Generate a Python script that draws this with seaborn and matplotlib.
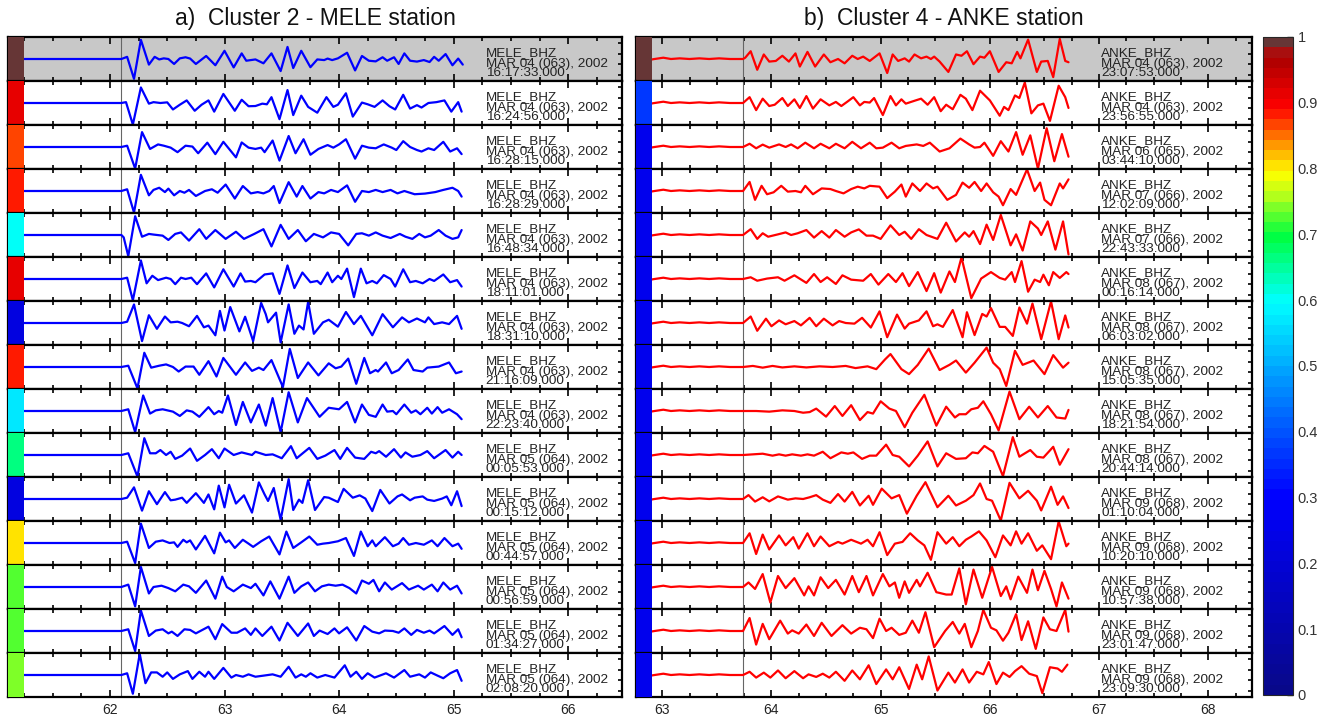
import numpy as np
import matplotlib
matplotlib.use("Agg")
import matplotlib.pyplot as plt
import seaborn as sns
from matplotlib.colors import LinearSegmentedColormap, ListedColormap, Normalize
from matplotlib.patches import Rectangle
from matplotlib.ticker import MultipleLocator
from matplotlib.cm import ScalarMappable

# ---- data ----
# trace times are in 1/100 s after the onset, amplitudes in % of the row half-height
mele_title = "a)  Cluster 2 - MELE station"
anke_title = "b)  Cluster 4 - ANKE station"

mele_onset = 62.1
anke_onset = 63.74

mele_corr = [1.0, 0.91, 0.86, 0.88, 0.60, 0.92, 0.22, 0.88, 0.57, 0.66, 0.22, 0.80, 0.72, 0.73, 0.74]
anke_corr = [1.0, 0.37, 0.26, 0.26, 0.26, 0.26, 0.26, 0.26, 0.26, 0.26, 0.26, 0.26, 0.26, 0.26, 0.26]

mele_dates = [
    ("MAR 04 (063), 2002", "16:17:33.000"), ("MAR 04 (063), 2002", "16:24:56.000"),
    ("MAR 04 (063), 2002", "16:28:15.000"), ("MAR 04 (063), 2002", "16:28:29.000"),
    ("MAR 04 (063), 2002", "16:48:34.000"), ("MAR 04 (063), 2002", "18:11:01.000"),
    ("MAR 04 (063), 2002", "18:31:10.000"), ("MAR 04 (063), 2002", "21:16:09.000"),
    ("MAR 04 (063), 2002", "22:23:40.000"), ("MAR 05 (064), 2002", "00:05:53.000"),
    ("MAR 05 (064), 2002", "00:15:12.000"), ("MAR 05 (064), 2002", "00:44:57.000"),
    ("MAR 05 (064), 2002", "00:56:59.000"), ("MAR 05 (064), 2002", "01:34:27.000"),
    ("MAR 05 (064), 2002", "02:08:20.000"),
]
anke_dates = [
    ("MAR 04 (063), 2002", "23:07:53.000"), ("MAR 04 (063), 2002", "23:56:55.000"),
    ("MAR 06 (065), 2002", "03:44:10.000"), ("MAR 07 (066), 2002", "12:02:09.000"),
    ("MAR 07 (066), 2002", "22:43:33.000"), ("MAR 08 (067), 2002", "00:16:14.000"),
    ("MAR 08 (067), 2002", "06:03:02.000"), ("MAR 08 (067), 2002", "15:05:35.000"),
    ("MAR 08 (067), 2002", "18:21:54.000"), ("MAR 08 (067), 2002", "20:44:14.000"),
    ("MAR 09 (068), 2002", "01:10:04.000"), ("MAR 09 (068), 2002", "10:20:10.000"),
    ("MAR 09 (068), 2002", "10:57:38.000"), ("MAR 09 (068), 2002", "23:01:47.000"),
    ("MAR 09 (068), 2002", "23:09:30.000"),
]

mele_t = [
    [0,5,11,17,24,29,33,37,41,46,51,56,60,65,74,82,90,98,105,109,117,124,131,139,145,150,157,165,171,177,180,184,189,197,204,210,216,222,228,232,238,242,247,252,258,264,269,273,277,283,289,294,298],
    [0,4,10,17,24,28,34,40,45,51,57,64,70,76,81,89,99,105,111,117,123,127,131,138,145,150,157,163,171,179,185,189,196,202,210,215,221,228,234,239,246,252,258,262,268,275,282,288,294,297],
    [0,5,12,18,25,32,37,43,49,56,62,67,75,82,89,100,105,111,117,122,125,132,138,146,152,159,165,172,180,185,190,196,204,210,216,222,229,236,240,246,252,258,262,268,273,281,287,293,297],
    [0,5,11,17,24,28,33,38,41,46,51,55,59,65,73,79,84,91,99,106,113,119,124,129,133,138,146,153,158,165,172,177,183,189,197,204,210,216,222,228,235,241,247,256,265,274,281,289,294,297],
    [0,2,6,12,18,24,28,36,41,47,52,59,68,74,82,91,100,107,116,124,131,139,146,154,161,168,176,183,190,198,205,210,216,222,228,235,243,248,254,260,265,270,277,283,289,294,297],
    [0,5,10,17,22,27,32,39,43,47,52,56,61,66,74,81,89,98,104,108,113,117,125,132,138,145,151,158,165,171,174,180,184,189,192,197,203,209,214,219,223,229,235,239,246,252,257,263,269,273,281,287,293,297],
    [0,5,11,18,24,31,38,43,49,53,59,66,72,76,82,86,90,95,103,108,115,122,126,128,135,139,146,151,155,159,163,168,176,181,189,196,203,209,219,228,237,245,251,258,265,268,273,280,286,293,297],
    [0,6,14,20,26,33,39,45,50,56,63,68,76,83,89,100,108,114,120,124,131,141,147,154,163,172,181,187,192,198,205,212,217,222,224,231,236,242,250,255,263,267,277,286,292,297],
    [0,6,12,19,25,30,36,45,51,57,62,68,76,81,85,88,93,100,106,113,120,126,132,139,146,154,162,173,181,190,197,204,210,216,222,228,232,237,240,247,253,257,261,267,271,276,280,286,293,297],
    [0,6,14,20,25,30,34,39,43,47,53,60,66,73,79,85,90,98,105,114,117,126,132,140,148,153,164,171,178,186,191,197,204,212,218,222,225,231,238,244,248,254,261,267,273,283,289,294,297],
    [0,5,11,18,24,31,38,43,47,53,57,65,72,76,81,85,90,94,100,107,114,120,125,128,133,139,146,150,155,158,163,169,177,181,189,194,202,208,213,219,226,234,241,245,252,256,263,267,273,280,284,288,293,297],
    [0,5,12,17,24,30,36,42,46,49,54,57,60,65,73,81,86,91,94,99,106,111,115,122,129,138,144,150,157,164,171,176,181,189,196,203,209,215,219,222,230,237,242,246,251,257,264,271,276,282,289,294,297],
    [0,6,12,17,24,28,35,41,47,54,59,65,74,82,88,92,98,106,113,117,124,130,138,146,151,157,163,169,175,181,187,193,199,205,210,216,220,225,230,236,245,251,259,264,271,276,281,287,293,297],
    [0,6,12,17,24,30,36,41,44,49,55,60,65,76,82,88,96,101,108,113,117,123,131,138,145,154,163,168,173,180,186,190,197,205,212,219,225,230,237,242,247,253,258,264,269,273,282,289,294,297],
    [0,5,10,16,21,26,31,36,40,45,51,58,62,68,73,76,81,89,96,100,106,111,117,124,132,139,146,152,157,161,165,171,178,186,195,200,205,210,215,221,231,238,247,252,260,265,270,276,281,287,293,297],
]
mele_a = [
    [0,10,-92,89,-26,10,-2,3,0,-23,3,8,2,-23,14,-29,38,-39,26,-8,-2,-20,26,-56,56,-42,38,-38,-2,-5,2,-5,3,29,-53,14,-8,-11,8,-8,8,-23,26,-8,-12,-5,-14,10,-8,23,-29,2,-26],
    [0,4,-100,72,-3,4,0,3,-30,-8,12,-36,-8,12,-40,42,-36,15,-15,-14,-3,-6,27,-75,60,-56,34,-18,-45,27,-18,-8,45,-63,2,-6,-18,12,-15,-30,38,-26,-10,-21,0,4,12,-40,4,-40],
    [0,6,-100,69,-9,12,6,-3,-24,6,2,-29,20,-33,24,-48,21,-3,-9,-3,-24,30,-63,51,-29,36,-36,-9,9,-3,12,36,-54,6,-3,-6,12,-3,-14,27,0,-14,-21,-6,-14,24,-21,-6,-33],
    [0,8,-100,75,-20,5,15,-5,11,-20,0,-8,5,-23,0,8,-8,30,-35,23,-11,-5,-11,0,23,-56,41,-26,23,-35,-5,-11,5,-5,26,-50,0,-5,5,-5,5,-11,0,-15,-12,-5,5,15,0,-26],
    [0,-11,-98,87,-8,5,2,-3,-23,5,12,-26,27,-18,23,-18,15,-18,5,27,-53,47,-18,23,-29,5,-11,12,5,-48,5,8,-3,12,-3,-14,5,-8,-18,5,-11,-3,23,-3,-18,-11,23],
    [0,6,-99,86,-20,15,-5,6,0,-24,6,0,6,-24,26,-39,45,-35,26,-12,-9,-15,21,26,-69,63,-42,30,-15,-9,-24,30,-15,15,0,48,-84,48,-20,-9,-20,18,0,-35,45,-15,-9,-20,0,-9,21,-15,-5,-35],
    [0,6,86,-84,36,-27,30,3,6,0,-15,33,-20,-12,-57,56,-35,74,-39,29,-84,93,41,3,48,-90,86,-50,-12,-30,98,-50,3,15,-17,51,-5,33,-57,41,-20,26,3,21,3,26,-5,3,-5,33,-27],
    [0,6,-99,66,-3,6,12,0,-21,2,2,-36,27,-44,42,-36,21,-18,-3,-14,32,-93,84,-51,21,-39,17,-6,2,39,-78,42,-29,-14,-21,21,-29,-14,35,-14,-21,-3,2,21,-29,-21],
    [0,8,-98,72,-12,3,8,-3,-23,3,-3,-27,18,-15,0,-8,72,-65,42,-53,30,-68,60,-98,87,-53,60,-27,15,8,42,-53,30,-18,-27,30,-3,0,-15,30,-8,3,-15,15,-12,18,-8,8,-15,-38],
    [0,8,-100,78,8,8,23,0,15,-18,-3,30,-27,0,27,-15,30,0,12,0,15,0,3,-15,41,-15,33,-18,-3,23,-18,33,-12,-18,15,8,18,-8,27,-12,12,-8,0,18,-15,23,-12,15,0],
    [0,6,54,-54,36,-24,32,-6,-3,6,-18,27,-18,21,-48,62,-39,66,-21,17,-63,77,21,-9,51,-96,92,-51,-3,-18,87,-51,9,6,-14,47,6,17,2,-56,42,-21,12,21,-6,6,12,-3,-9,2,12,-29,36,-33],
    [0,6,-93,90,-23,6,12,0,3,-18,15,3,12,-30,33,-48,48,3,12,-23,15,-3,-18,8,30,-53,53,-23,3,30,-8,-3,0,8,23,-60,53,-15,12,-15,27,-15,-3,23,-8,0,-8,12,-15,23,-15,-3,-27],
    [0,11,-90,93,-30,0,6,-5,-20,11,3,-27,30,-54,48,0,-20,11,-5,15,-39,26,-54,48,-27,3,21,-20,3,11,6,11,-5,-30,30,15,33,-20,21,-12,18,-12,6,-12,11,-20,21,-12,6,-30],
    [0,8,-93,95,-23,2,8,-11,-3,-23,8,5,-11,20,-38,32,-8,-8,12,-18,12,-23,20,-44,38,-23,35,-23,2,-14,12,-11,17,-44,23,-3,-11,2,0,-8,12,-18,5,-8,2,-11,23,-18,8,-29],
    [0,8,-87,98,-38,12,12,-8,12,-18,3,18,-18,15,-8,15,-18,33,-12,0,-8,3,-8,-3,3,-8,38,-12,3,-8,8,-12,0,-12,45,-8,15,-18,8,-12,8,-12,23,-8,3,-12,12,-3,-15,8,23,-27],
]

anke_t = [
    [0,2,7,13,19,24,30,36,42,48,52,59,66,74,80,87,93,100,105,110,116,125,132,137,142,148,152,157,163,168,172,175,180,188,195,200,205,211,217,221,226,234,241,246,251,254,261,269,273,279,284,290,295,298],
    [0,6,12,18,24,29,36,41,47,52,58,64,71,79,85,90,96,101,107,111,116,120,128,135,140,145,149,158,163,169,175,181,186,192,199,204,210,217,226,235,239,243,249,253,258,264,270,275,281,289,295,298],
    [0,6,12,18,24,33,39,44,50,57,65,71,79,85,93,100,108,116,122,128,136,143,149,159,165,171,180,189,199,207,212,217,221,229,236,243,250,256,263,270,278,285,292,298],
    [0,6,11,17,22,28,35,41,48,53,57,64,72,80,85,92,99,105,111,116,125,132,139,145,149,155,162,168,174,178,187,195,201,207,212,218,223,229,234,238,245,250,260,267,272,276,282,290,293,298],
    [0,7,13,18,23,32,39,44,50,58,65,72,79,85,93,99,106,113,119,126,135,143,148,154,161,168,178,186,195,203,207,211,217,223,229,236,245,250,256,263,270,273,279,286,293,298],
    [0,7,13,22,32,38,47,58,65,71,77,85,91,99,110,117,124,133,140,146,152,160,168,175,181,189,194,200,209,218,227,235,240,246,249,255,261,267,272,275,280,284,290,296,298],
    [0,7,13,21,26,33,39,47,53,61,67,74,82,88,94,102,109,117,125,132,141,148,152,161,168,174,178,183,192,201,205,212,219,223,227,235,240,247,253,260,265,273,282,289,295,298],
    [0,9,18,27,36,47,58,70,82,94,103,114,122,130,135,145,152,160,170,180,189,195,204,212,223,229,235,241,249,256,266,276,284,293,298],
    [0,12,24,36,47,55,61,67,76,84,91,99,107,114,119,126,134,140,148,155,166,177,186,194,198,204,209,215,220,227,234,244,253,262,270,279,287,295,298],
    [0,9,18,27,33,39,45,53,59,65,73,80,90,96,101,109,116,122,131,137,143,152,160,169,178,186,195,204,210,215,221,229,238,247,253,263,269,275,284,290,298],
    [0,5,11,18,24,32,41,48,55,61,67,73,80,87,93,100,107,115,119,127,136,143,150,159,167,178,188,195,204,211,217,223,228,236,244,253,261,269,273,282,288,293,298],
    [0,6,12,18,24,33,39,46,51,59,65,71,79,87,91,99,108,114,119,125,132,139,146,153,160,166,172,178,186,192,198,204,209,216,223,231,238,245,250,255,261,269,274,282,289,296,298],
    [0,5,11,18,25,32,39,47,56,60,65,71,78,85,93,100,106,113,119,128,134,139,143,148,152,159,162,169,177,186,191,198,204,211,219,228,236,241,245,252,260,265,270,276,282,287,292,298],
    [0,6,12,18,24,34,41,45,51,58,65,72,81,91,99,107,113,119,125,131,136,143,149,155,161,167,175,185,192,198,203,209,215,220,227,232,238,243,250,255,261,268,275,281,287,295,298],
    [0,6,12,19,25,32,39,47,55,60,67,73,79,85,93,100,107,115,122,131,137,143,152,159,164,170,178,188,194,201,207,214,220,225,232,238,244,249,255,262,269,274,281,288,292,297],
]
anke_a = [
    [0,6,36,-50,21,-12,-9,15,-12,26,-35,33,-35,21,-15,0,-20,15,0,11,-9,26,-65,21,-9,3,-12,21,3,11,0,11,-12,-60,21,15,36,-24,11,6,36,-60,-15,-20,33,3,90,-60,-12,-9,-84,93,-9,-15],
    [0,27,-33,20,-14,-8,23,-14,17,-23,32,-26,17,-11,5,-14,8,27,-11,5,2,23,-56,32,-11,17,-3,12,20,-8,27,-38,-8,-29,38,20,-33,57,12,-59,-18,-33,35,23,95,-48,-11,-3,-83,80,27,-23],
    [0,15,-6,11,-3,12,0,12,-6,20,-6,15,-6,15,-6,24,-6,20,-6,-3,20,-6,5,12,5,20,-21,-6,39,12,-3,0,20,-41,27,-21,69,-36,54,-100,87,-66,60,-45],
    [0,42,-41,24,-15,-6,24,-3,0,-6,24,-15,12,9,0,-11,9,20,12,24,20,-33,-3,30,-26,35,0,35,12,20,-41,-18,39,15,42,0,35,-6,-26,-66,9,-18,100,0,39,-41,-66,35,12,54],
    [0,27,-18,8,-8,3,12,0,8,23,-12,18,-12,23,-8,12,26,-3,-3,-18,45,0,15,-18,27,0,-18,57,-30,12,-8,18,-42,48,-23,93,-48,3,-72,63,30,0,63,-68,63,-90],
    [0,8,-8,2,8,-8,17,-18,23,-14,8,-23,17,-3,-8,23,-26,23,-14,27,-33,32,-56,27,-63,35,-14,100,-89,2,32,5,-3,32,-14,83,-59,-3,-14,20,-29,32,5,32,23],
    [0,30,-36,20,-15,12,-6,9,-11,24,-15,20,-11,9,0,-3,24,-21,54,-66,39,-26,-3,12,54,-15,-6,-18,60,-66,50,-56,42,30,69,-18,-18,-60,72,-3,90,-75,100,-75,35,-21],
    [0,5,-3,5,-2,3,-2,3,0,5,-5,3,-10,35,60,-10,-33,10,85,-14,10,30,-26,20,90,20,-10,-88,75,10,30,-33,55,-3,20],
    [0,0,-3,3,0,-8,-5,11,-26,23,-23,27,-42,-5,-12,45,11,0,-75,-8,75,-68,20,-30,-15,-15,8,15,45,-15,-90,90,-38,20,-30,23,-30,-35,5],
    [0,3,6,-3,3,-3,3,-3,3,-3,15,-15,12,6,12,-18,-3,-3,48,0,-8,-53,-3,63,-53,8,-18,-15,12,8,42,15,-98,83,-8,23,-8,-12,38,-45,27],
    [0,18,-12,8,-11,12,-3,3,0,8,18,-3,-18,23,-12,33,-30,15,-27,48,3,18,-68,15,78,-38,15,-30,-8,18,72,0,-8,-100,75,3,38,-8,-53,57,-27,12,-42],
    [0,45,-51,39,-30,35,-11,27,-26,45,-15,30,-15,5,-3,15,-3,15,-15,50,-56,-3,5,45,12,-11,-78,50,-3,27,-15,15,30,54,12,-66,35,-11,54,-3,45,-36,-11,-75,100,-15,-3],
    [0,21,-9,60,-72,51,-5,41,-39,3,-39,45,-5,33,-35,51,-24,51,-39,60,3,21,-50,26,-27,33,3,66,-24,-35,-35,86,-80,81,-50,93,-42,3,-57,48,-27,81,-15,75,-9,-90,21,-54],
    [0,60,-63,33,-38,48,-12,3,-12,30,-23,38,-23,27,-12,15,8,-33,57,0,15,-18,-8,48,-8,87,-75,0,42,-12,33,-75,0,98,15,3,-45,-8,78,-42,45,-83,63,8,0,98,-3],
    [0,15,-12,11,-12,21,-15,18,-15,3,-9,6,-12,15,-27,21,-20,45,-42,26,-20,36,-65,48,-20,86,-72,11,-35,26,-35,15,3,60,-42,11,-9,18,41,6,-5,-84,36,30,15,48],
]

# pre-event part of the windows (1/100 s before onset)
mele_pre_t = [-98]
mele_pre_a = [0]
anke_pre_t = [-98, -93, -87, -81, -73, -66, -58, -49, -40, -31, -22, -12]
anke_pre_a = [0, 6, -5, 0, 6, 0, 3, 0, 3, 0, 3, 0]

cbar_ticks = [0, 0.1, 0.2, 0.3, 0.4, 0.5, 0.6, 0.7, 0.8, 0.9, 1]

# ---- style ----
sns.set_style("ticks")
plt.rcParams["font.family"] = ["Liberation Sans", "DejaVu Sans"]

W, H = 1325, 715
ROW_TOP, ROW_H = 37, 44

anchors = [(0.0, "#08088a"), (0.3, "#0000ff"), (0.5, "#00aaff"), (0.6, "#00ffff"),
           (0.7, "#00ff40"), (0.76, "#a8ff20"), (0.8, "#ffff00"), (0.84, "#ffa000"),
           (0.87, "#ff5000"), (0.9, "#ff0000"), (0.97, "#b00000"), (1.0, "#a02020")]
base = LinearSegmentedColormap.from_list("cc", anchors)
cols = base(np.linspace(0, 1, 64))
cols[-1] = (0.40, 0.21, 0.21, 1.0)
cmap = ListedColormap(cols)
norm = Normalize(0, 1)

fig = plt.figure(figsize=(W / 100, H / 100), dpi=100)


def draw_panel(x0, x1, xlim, onset, pre_t, pre_a, times, amps, corr, dates,
               station, color, title, text_x, major_ticks):
    fig.text((x0 + x1) / 2 / W, 1 - 18 / H, title, ha="center", va="center",
             fontsize=16.5, color="#111111")
    for i in range(15):
        top = ROW_TOP + ROW_H * i
        ax = fig.add_axes([x0 / W, 1 - (top + ROW_H) / H, (x1 - x0) / W, ROW_H / H])
        if i == 0:
            ax.set_facecolor("#c8c8c8")
        t = np.array(pre_t + times[i]) / 100.0 + onset
        a = np.array(pre_a + amps[i])
        sns.lineplot(x=t, y=a, ax=ax, color=color, linewidth=1.6,
                     estimator=None, sort=False, legend=False)
        ax.axvline(onset, color="#666666", linewidth=0.8, zorder=1)
        ax.add_patch(Rectangle((0, 0), 0.026, 1, transform=ax.transAxes,
                               color=cmap(norm(corr[i])), zorder=3, lw=0))
        tr = ax.get_xaxis_transform()
        ax.text(text_x, 0.56, f"{station}_BHZ", transform=tr, fontsize=9.7,
                color="#222222", va="baseline")
        ax.text(text_x, 0.32, dates[i][0], transform=tr, fontsize=9.7,
                color="#222222", va="baseline")
        ax.text(text_x, 0.115, dates[i][1], transform=tr, fontsize=9.7,
                color="#222222", va="baseline")
        ax.set_xlim(*xlim)
        ax.set_ylim(-102, 102)
        ax.set_xlabel("")
        ax.set_ylabel("")
        ax.set_xticks(major_ticks)
        ax.xaxis.set_minor_locator(MultipleLocator(0.25))
        ax.set_yticks([-72, -24, 24, 72])
        ax.tick_params(which="both", direction="in", top=True, bottom=True,
                       left=True, right=True, labelleft=False,
                       labelbottom=(i == 14), width=1.2, color="black")
        ax.tick_params(which="major", length=5, labelsize=10, labelcolor="#222222", pad=4)
        ax.tick_params(which="minor", length=3)
        ax.tick_params(axis="y", length=3)
        for s in ax.spines.values():
            s.set_linewidth(1.6)
            s.set_color("black")


draw_panel(8, 622, (61.11, 66.47), mele_onset, mele_pre_t, mele_pre_a, mele_t, mele_a,
           mele_corr, mele_dates, "MELE", "#0000ff", mele_title, 65.28, [62, 63, 64, 65, 66])
draw_panel(636, 1252, (62.76, 68.40), anke_onset, anke_pre_t, anke_pre_a, anke_t, anke_a,
           anke_corr, anke_dates, "ANKE", "#ff0000", anke_title, 67.02, [63, 64, 65, 66, 67, 68])

cax = fig.add_axes([1263 / W, 1 - 695 / H, 30 / W, 658 / H])
cb = fig.colorbar(ScalarMappable(norm=norm, cmap=cmap), cax=cax)
cb.set_ticks(cbar_ticks)
cb.set_ticklabels([f"{v:g}" for v in cbar_ticks])
cax.tick_params(direction="in", length=4, width=1, labelsize=10.5, labelcolor="#333333")
cb.outline.set_linewidth(0.8)

fig.savefig("out.png", dpi=100)
